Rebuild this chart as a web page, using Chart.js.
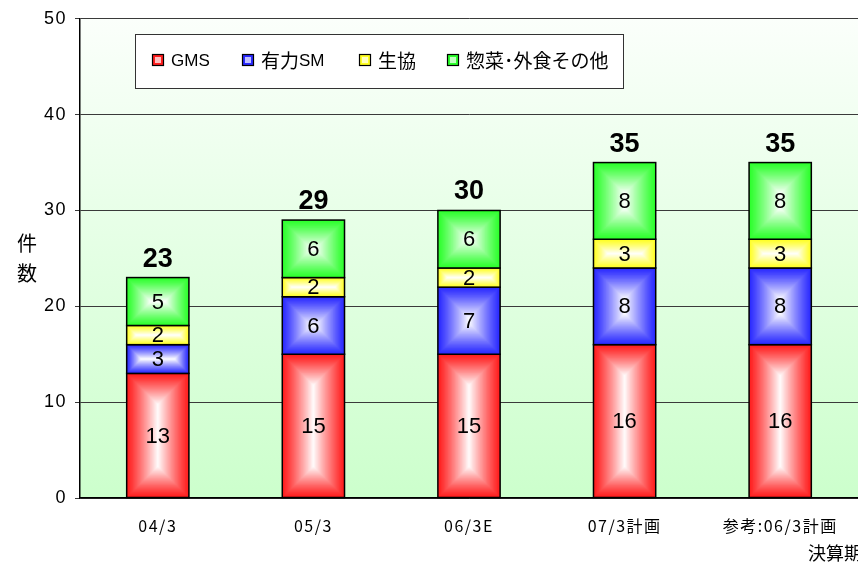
<!DOCTYPE html>
<html>
<head>
<meta charset="utf-8">
<script src="https://cdn.jsdelivr.net/npm/chart.js@4"></script>
<style>
  html, body { margin: 0; padding: 0; background: #fff; }
  #wrap { width: 858px; height: 563px; }
</style>
</head>
<body>
<div id="wrap"><canvas id="barChart"></canvas></div>
<script>
// values
var labels = ['04/3', '05/3', '06/3E', '07/3計画', '参考:06/3計画'];
var gms = [13, 15, 15, 16, 16];
var yuryokuSM = [3, 6, 7, 8, 8];
var seikyo = [2, 2, 2, 3, 3];
var sozai = [5, 6, 6, 8, 8];
var yTicks = [0, 10, 20, 30, 40, 50];

var seriesNames = ['GMS', '有力SM', '生協', '惣菜･外食その他'];
var seriesColors = ['#ff1e1e', '#2a2aff', '#ffff22', '#2cff2c'];

function mix(hex, t) {
  // t = 0 -> colour, t = 1 -> white
  var r = parseInt(hex.substr(1, 2), 16), g = parseInt(hex.substr(3, 2), 16), b = parseInt(hex.substr(5, 2), 16);
  r = Math.round(r + (255 - r) * t); g = Math.round(g + (255 - g) * t); b = Math.round(b + (255 - b) * t);
  return 'rgb(' + r + ',' + g + ',' + b + ')';
}

// latin text a bit smaller than the japanese, like the original legend
function drawMixed(c, text, x, y) {
  var runs = text.match(/[\x00-\x7f]+|[^\x00-\x7f]+/g) || [];
  runs.forEach(function (r) {
    if (/^[\x00-\x7f]/.test(r)) c.font = '17px "Liberation Sans", Arial, sans-serif';
    else c.font = '19px "Noto Sans CJK JP", sans-serif';
    c.fillText(r, x, y);
    x += c.measureText(r).width;
  });
}

// plot background, white at top to pale green at bottom
var bgPlugin = {
  id: 'plotBg',
  beforeDraw: function (chart) {
    var a = chart.chartArea, c = chart.ctx;
    var g = c.createLinearGradient(0, a.top, 0, a.bottom);
    g.addColorStop(0, '#fbfffb');
    g.addColorStop(1, '#ccffcc');
    c.save();
    c.fillStyle = g;
    c.fillRect(a.left, a.top, a.right - a.left, a.bottom - a.top);
    c.restore();
    // a little spacing for the axis labels, like the original
    c.letterSpacing = '1.5px';
  },
  beforeDatasetsDraw: function (chart) {
    chart.ctx.letterSpacing = '0px';
  }
};

// "from centre" rectangle gradient on each bar, then value labels
var barPlugin = {
  id: 'barDeco',
  afterDatasetsDraw: function (chart) {
    var c = chart.ctx;
    c.save();
    chart.data.datasets.forEach(function (ds, di) {
      var meta = chart.getDatasetMeta(di);
      meta.data.forEach(function (el) {
        var p = el.getProps(['x', 'y', 'base', 'width'], true);
        var x0 = p.x - p.width / 2, y0 = Math.min(p.y, p.base);
        var w = p.width, h = Math.abs(p.base - p.y);
        var half = Math.min(w, h) / 2;
        var steps = 40;
        for (var k = 0; k <= steps; k++) {
          var ins = half * k / steps;
          var t = Math.pow(k / steps, 1.15);
          c.fillStyle = mix(ds.baseColor, t);
          c.fillRect(x0 + ins, y0 + ins, w - 2 * ins, h - 2 * ins);
        }
        c.lineWidth = 1.5;
        c.strokeStyle = '#000';
        c.strokeRect(x0, y0, w, h);
      });
    });
    // segment values
    c.fillStyle = '#000';
    c.textAlign = 'center';
    c.textBaseline = 'middle';
    c.font = '22px "Liberation Sans", Arial, sans-serif';
    chart.data.datasets.forEach(function (ds, di) {
      var meta = chart.getDatasetMeta(di);
      meta.data.forEach(function (el, i) {
        var p = el.getProps(['x', 'y', 'base'], true);
        c.fillText(String(ds.data[i]), p.x, (p.y + p.base) / 2 + 1);
      });
    });
    // totals
    c.font = 'bold 27px "Liberation Sans", Arial, sans-serif';
    c.textBaseline = 'alphabetic';
    var last = chart.getDatasetMeta(chart.data.datasets.length - 1);
    last.data.forEach(function (el, i) {
      var total = 0;
      chart.data.datasets.forEach(function (ds) { total += ds.data[i]; });
      var p = el.getProps(['x', 'y'], true);
      c.fillText(String(total), p.x, p.y - 11);
    });
    c.restore();
  }
};

// legend box, axis titles
var textPlugin = {
  id: 'texts',
  afterDraw: function (chart) {
    var c = chart.ctx;
    c.save();
    c.letterSpacing = '0px';
    c.fillStyle = '#fff';
    c.fillRect(135.5, 34.5, 488, 54);
    c.strokeStyle = '#333';
    c.lineWidth = 1;
    c.strokeRect(135.5, 34.5, 488, 54);
    var boxX = [152, 242, 359, 447];
    c.textBaseline = 'middle';
    c.textAlign = 'left';
    chart.data.datasets.forEach(function (ds, i) {
      var bx = boxX[i];
      c.fillStyle = ds.baseColor;
      c.fillRect(bx, 54, 12, 12);
      c.fillStyle = mix(ds.baseColor, 0.7);
      c.fillRect(bx + 3, 57, 6, 6);
      c.strokeStyle = '#000';
      c.lineWidth = 1.2;
      c.strokeRect(bx + 0.5, 54.5, 11, 11);
      c.fillStyle = '#000';
      drawMixed(c, ds.label, bx + 19, 61);
    });
    c.font = '20px "Noto Sans CJK JP", sans-serif';
    c.textAlign = 'center';
    c.fillText('件', 27, 243);
    c.fillText('数', 27, 273);
    c.font = '18px "Noto Sans CJK JP", sans-serif';
    c.textAlign = 'left';
    c.fillText('決算期', 808, 553);
    c.restore();
  }
};

var ctx = document.getElementById('barChart').getContext('2d');
var allData = [gms, yuryokuSM, seikyo, sozai];
var datasets = allData.map(function (d, i) {
  return {
    label: seriesNames[i],
    data: d,
    baseColor: seriesColors[i],
    backgroundColor: seriesColors[i],
    borderColor: '#000',
    borderWidth: 1.5,
    barPercentage: 0.4,
    categoryPercentage: 1.0
  };
});

var myChart = new Chart(ctx, {
  type: 'bar',
  data: { labels: labels, datasets: datasets },
  plugins: [bgPlugin, barPlugin, textPlugin],
  options: {
    responsive: true,
    maintainAspectRatio: false,
    animation: false,
    layout: { padding: { top: 17, right: 0, left: 0, bottom: 0 } },
    plugins: { legend: { display: false }, tooltip: { enabled: false } },
    scales: {
      x: {
        stacked: true,
        grid: { display: false },
        border: { display: true, color: '#000', width: 1.5 },
        ticks: {
          color: '#000',
          padding: 10,
          maxRotation: 0,
          font: { family: '"Noto Sans CJK JP", sans-serif', size: 16 }
        },
        afterFit: function (s) { s.height = 65; }
      },
      y: {
        stacked: true,
        min: 0,
        max: 50,
        afterBuildTicks: function (s) { s.ticks = yTicks.map(function (v) { return { value: v }; }); },
        grid: { color: '#3a3a3a', lineWidth: 1, tickLength: 5, drawTicks: true },
        border: { display: true, color: '#000', width: 1.5 },
        ticks: {
          color: '#000',
          padding: 8,
          font: { family: '"Liberation Sans", Arial, sans-serif', size: 18 }
        },
        afterFit: function (s) { s.width = 80; }
      }
    }
  }
});
myChart.update();
</script>
</body>
</html>
